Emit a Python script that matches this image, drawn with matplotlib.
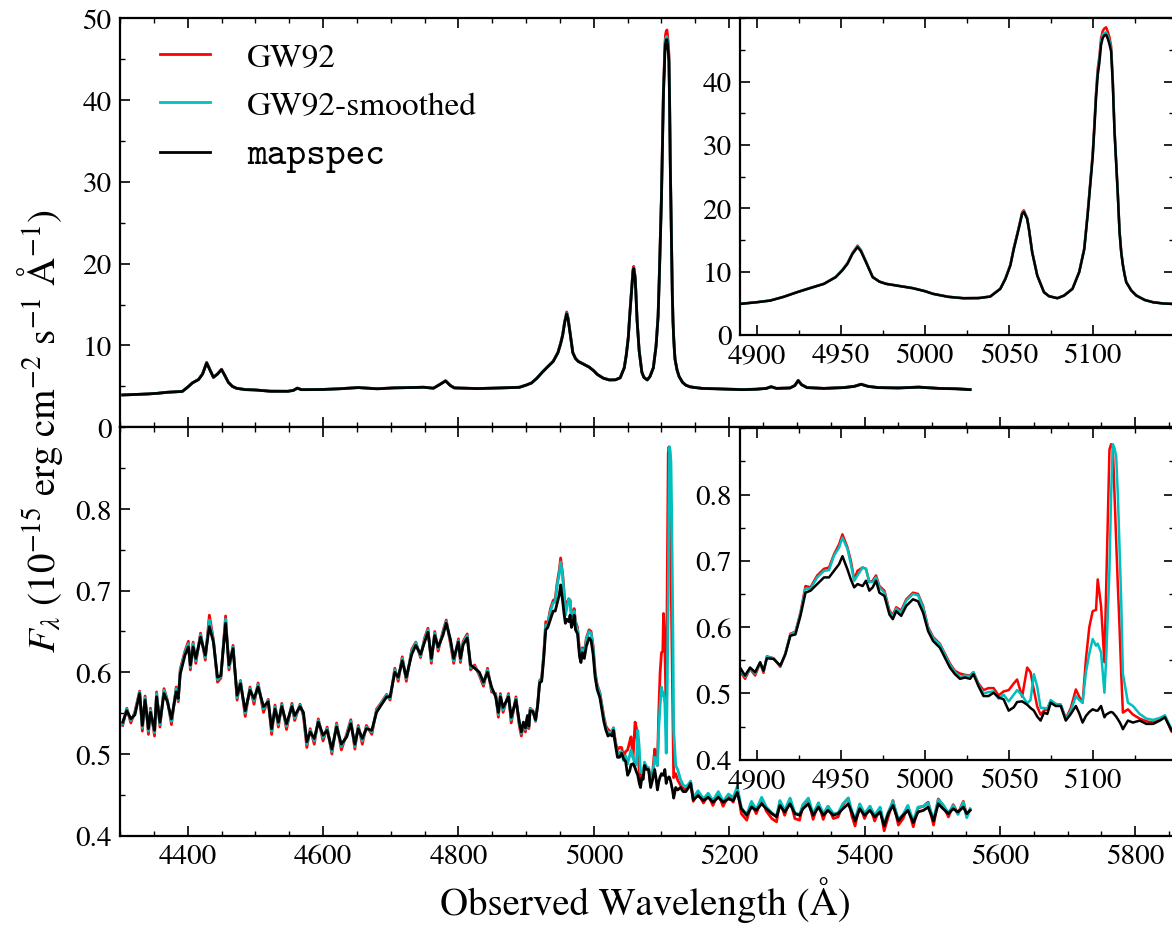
import matplotlib
matplotlib.use("Agg")
import matplotlib.pyplot as plt
from matplotlib.ticker import MultipleLocator

# top panel: full spectrum (10^-15 erg/cm2/s/A)
top_wave = [4304, 4320, 4341, 4355, 4370, 4385, 4392, 4400, 4407, 4416, 4422, 4428, 4433, 4438,
            4444, 4450, 4455, 4460, 4466, 4472, 4485, 4500, 4522, 4548, 4556, 4562, 4568, 4579,
            4600, 4624, 4652, 4680, 4704, 4749, 4763, 4772, 4781, 4788, 4794, 4828, 4860, 4879,
            4890, 4900, 4908, 4916, 4924, 4932, 4940, 4947, 4951, 4954, 4957, 4960, 4962, 4965,
            4969, 4973, 4977, 4985, 4993, 5000, 5005, 5014, 5023, 5032, 5039, 5045, 5048, 5051,
            5053, 5056, 5058, 5059, 5061, 5062, 5064, 5067, 5071, 5074, 5079, 5083, 5088, 5092,
            5095, 5097, 5099, 5100, 5101, 5102, 5103, 5104, 5105, 5106, 5107, 5108, 5109, 5110,
            5111, 5112, 5113, 5114, 5115, 5116, 5117, 5118, 5119, 5120, 5123, 5126, 5131, 5136,
            5142, 5147, 5160, 5180, 5200, 5220, 5240, 5255, 5262, 5270, 5290, 5297, 5302, 5307,
            5315, 5340, 5370, 5385, 5395, 5405, 5420, 5450, 5480, 5510, 5535, 5556]
top_mapspec = [3.95, 4.0, 4.07, 4.15, 4.28, 4.35, 4.38, 4.9, 5.42, 5.83, 6.5, 7.86, 7.0, 6.11,
               6.5, 7.05, 6.3, 5.5, 5.0, 4.77, 4.6, 4.56, 4.4, 4.4, 4.5, 4.77, 4.6, 4.6,
               4.62, 4.7, 4.85, 4.7, 4.81, 4.89, 4.77, 5.2, 5.66, 5.1, 4.81, 4.73, 4.8, 4.85,
               4.88, 5.15, 5.41, 6.0, 6.73, 7.4, 8.05, 9.11, 10.2, 11.22, 12.8, 13.86, 13.2, 11.49,
               9.11, 8.4, 8.05, 7.7, 7.36, 6.9, 6.47, 6.0, 5.78, 5.8, 6.04, 7.26, 8.8, 10.96,
               13.5, 16.77, 19.1, 19.41, 18.3, 16.77, 13.0, 9.37, 6.73, 6.1, 5.78, 6.2, 7.26, 9.9,
               13.5, 18.88, 25.0, 28.0, 32.5, 37.37, 41.0, 43.0, 45.8, 46.9, 47.3, 47.41, 46.8, 45.9,
               44.77, 39.5, 32.09, 27.0, 22.0, 16.24, 13.0, 11.0, 9.5, 8.31, 7.0, 6.2, 5.5, 5.14,
               4.95, 4.88, 4.75, 4.7, 4.65, 4.6, 4.65, 4.75, 4.95, 4.75, 4.8, 5.1, 5.7, 5.2,
               4.85, 4.75, 4.85, 5.0, 5.25, 5.0, 4.85, 4.8, 4.9, 4.75, 4.7, 4.6]
top_gw92 = [3.95, 4.0, 4.08, 4.15, 4.28, 4.35, 4.38, 4.92, 5.44, 5.85, 6.55, 7.95, 7.02, 6.1,
            6.52, 7.1, 6.32, 5.5, 5.0, 4.77, 4.62, 4.56, 4.42, 4.4, 4.52, 4.8, 4.6, 4.62,
            4.63, 4.72, 4.86, 4.72, 4.82, 4.9, 4.78, 5.22, 5.7, 5.12, 4.82, 4.74, 4.8, 4.86,
            4.9, 5.16, 5.43, 6.02, 6.76, 7.43, 8.08, 9.15, 10.3, 11.35, 12.95, 14.1, 13.4, 11.6,
            9.15, 8.42, 8.07, 7.72, 7.38, 6.92, 6.48, 6.02, 5.8, 5.82, 6.06, 7.3, 8.9, 11.1,
            13.7, 17.0, 19.35, 19.67, 18.5, 16.9, 13.1, 9.4, 6.75, 6.12, 5.8, 6.22, 7.3, 10.0,
            13.7, 19.2, 25.5, 28.6, 33.2, 38.2, 42.0, 44.0, 46.8, 48.0, 48.4, 48.57, 47.9, 47.0,
            45.6, 40.2, 32.5, 27.4, 22.3, 16.4, 13.2, 11.1, 9.6, 8.35, 7.02, 6.22, 5.52, 5.16,
            4.96, 4.9, 4.76, 4.72, 4.66, 4.62, 4.66, 4.77, 4.98, 4.76, 4.82, 5.12, 5.75, 5.22,
            4.86, 4.76, 4.87, 5.02, 5.28, 5.02, 4.86, 4.82, 4.92, 4.76, 4.72, 4.62]
top_smooth = [3.95, 4.0, 4.07, 4.15, 4.28, 4.35, 4.38, 4.91, 5.43, 5.84, 6.52, 7.9, 7.01, 6.1,
              6.51, 7.07, 6.31, 5.5, 5.0, 4.77, 4.61, 4.56, 4.41, 4.4, 4.51, 4.78, 4.6, 4.61,
              4.62, 4.71, 4.85, 4.71, 4.81, 4.89, 4.77, 5.21, 5.68, 5.11, 4.81, 4.73, 4.8, 4.85,
              4.89, 5.15, 5.42, 6.01, 6.74, 7.41, 8.06, 9.13, 10.25, 11.3, 12.9, 13.95, 13.3, 11.55,
              9.13, 8.41, 8.06, 7.71, 7.37, 6.91, 6.47, 6.01, 5.79, 5.81, 6.05, 7.28, 8.85, 11.0,
              13.6, 16.9, 19.2, 19.5, 18.4, 16.8, 13.05, 9.38, 6.74, 6.11, 5.79, 6.21, 7.28, 9.95,
              13.6, 19.0, 25.2, 28.3, 32.8, 37.8, 41.5, 43.5, 46.3, 47.4, 47.7, 47.8, 47.2, 46.4,
              45.1, 39.8, 32.3, 27.2, 22.1, 16.3, 13.1, 11.05, 9.55, 8.33, 7.01, 6.21, 5.51, 5.15,
              4.95, 4.89, 4.75, 4.71, 4.65, 4.61, 4.65, 4.76, 4.96, 4.75, 4.81, 5.11, 5.72, 5.21,
              4.85, 4.75, 4.86, 5.01, 5.26, 5.01, 4.85, 4.81, 4.91, 4.75, 4.71, 4.61]

# bottom panel
bot_wave = [4304, 4310, 4316, 4322, 4329, 4333, 4337, 4342, 4345, 4351, 4354, 4359, 4365, 4370,
            4376, 4383, 4386, 4389, 4396, 4401, 4404, 4408, 4412, 4419, 4426, 4432, 4438, 4444,
            4449, 4456, 4461, 4467, 4473, 4478, 4485, 4492, 4498, 4504, 4512, 4519, 4524, 4529,
            4534, 4539, 4546, 4554, 4558, 4566, 4571, 4576, 4581, 4587, 4593, 4600, 4606, 4613,
            4620, 4627, 4635, 4641, 4647, 4652, 4658, 4664, 4672, 4679, 4686, 4694, 4699, 4706,
            4711, 4717, 4723, 4731, 4737, 4744, 4750, 4755, 4760, 4765, 4770, 4777, 4782, 4788,
            4793, 4800, 4803, 4807, 4813, 4818, 4824, 4831, 4837, 4843, 4849, 4855, 4859, 4862,
            4866, 4874, 4878, 4885, 4890, 4893, 4896, 4899, 4902, 4904, 4906, 4910, 4914, 4917,
            4920, 4923, 4926, 4929, 4932, 4936, 4940, 4943, 4946, 4949, 4951, 4954, 4956, 4958,
            4960, 4963, 4965, 4967, 4969, 4971, 4973, 4976, 4979, 4981, 4983, 4986, 4989, 4993,
            4996, 4999, 5002, 5005, 5009, 5012, 5015, 5018, 5021, 5024, 5027, 5029, 5032, 5035,
            5038, 5041, 5044, 5047, 5050, 5053, 5055, 5058, 5061, 5063, 5065, 5067, 5069, 5071,
            5073, 5075, 5078, 5081, 5084, 5087, 5090, 5092, 5094, 5096, 5098, 5100, 5102, 5103,
            5105, 5107, 5108, 5110, 5111, 5112, 5113, 5114, 5115, 5116, 5117, 5118, 5121, 5124,
            5128, 5132, 5136, 5140, 5143, 5147, 5154, 5162, 5169, 5176, 5184, 5191, 5199, 5206,
            5212, 5218, 5226, 5233, 5240, 5248, 5255, 5263, 5270, 5275, 5282, 5290, 5297, 5304,
            5309, 5317, 5324, 5332, 5339, 5346, 5354, 5361, 5368, 5376, 5381, 5386, 5393, 5400,
            5408, 5415, 5423, 5429, 5435, 5442, 5450, 5457, 5464, 5472, 5479, 5487, 5494, 5502,
            5509, 5516, 5524, 5531, 5538, 5546, 5551, 5556]
bot_mapspec = [0.539, 0.553, 0.543, 0.548, 0.574, 0.535, 0.566, 0.531, 0.551, 0.529, 0.570, 0.539, 0.574, 0.564,
               0.543, 0.576, 0.568, 0.598, 0.621, 0.631, 0.609, 0.631, 0.617, 0.643, 0.621, 0.656, 0.637, 0.594,
               0.596, 0.660, 0.609, 0.629, 0.572, 0.586, 0.553, 0.578, 0.568, 0.582, 0.558, 0.564, 0.531, 0.555,
               0.539, 0.558, 0.537, 0.558, 0.547, 0.558, 0.551, 0.515, 0.527, 0.519, 0.539, 0.523, 0.529, 0.506,
               0.533, 0.512, 0.521, 0.537, 0.512, 0.531, 0.519, 0.531, 0.529, 0.551, 0.560, 0.570, 0.570, 0.600,
               0.594, 0.614, 0.594, 0.622, 0.633, 0.622, 0.637, 0.649, 0.617, 0.645, 0.631, 0.645, 0.660, 0.641,
               0.617, 0.637, 0.617, 0.634, 0.642, 0.609, 0.605, 0.600, 0.588, 0.600, 0.582, 0.570, 0.551, 0.570,
               0.557, 0.570, 0.545, 0.566, 0.539, 0.527, 0.539, 0.532, 0.547, 0.534, 0.553, 0.552, 0.542, 0.559,
               0.587, 0.589, 0.617, 0.652, 0.655, 0.665, 0.675, 0.675, 0.685, 0.695, 0.707, 0.687, 0.672, 0.660,
               0.665, 0.662, 0.670, 0.655, 0.660, 0.670, 0.652, 0.647, 0.619, 0.612, 0.624, 0.617, 0.632, 0.642,
               0.639, 0.622, 0.594, 0.579, 0.569, 0.554, 0.539, 0.529, 0.522, 0.524, 0.522, 0.529, 0.511, 0.496,
               0.496, 0.501, 0.494, 0.491, 0.474, 0.479, 0.487, 0.488, 0.483, 0.478, 0.474, 0.465, 0.459, 0.471,
               0.469, 0.486, 0.481, 0.481, 0.459, 0.469, 0.481, 0.470, 0.456, 0.466, 0.472, 0.476, 0.474, 0.474,
               0.481, 0.464, 0.468, 0.471, 0.472, 0.471, 0.468, 0.465, 0.461, 0.457, 0.452, 0.446, 0.459, 0.456,
               0.459, 0.454, 0.454, 0.459, 0.464, 0.444, 0.449, 0.443, 0.447, 0.441, 0.447, 0.441, 0.445, 0.443,
               0.453, 0.433, 0.425, 0.435, 0.431, 0.439, 0.433, 0.427, 0.423, 0.437, 0.429, 0.439, 0.427, 0.425,
               0.433, 0.439, 0.425, 0.435, 0.425, 0.431, 0.425, 0.427, 0.433, 0.439, 0.429, 0.418, 0.433, 0.425,
               0.431, 0.423, 0.429, 0.412, 0.427, 0.437, 0.418, 0.425, 0.431, 0.416, 0.429, 0.431, 0.435, 0.418,
               0.439, 0.433, 0.427, 0.433, 0.429, 0.435, 0.427, 0.431]
bot_gw92 = [0.535, 0.556, 0.538, 0.552, 0.577, 0.528, 0.571, 0.524, 0.556, 0.522, 0.576, 0.533, 0.580, 0.566,
            0.536, 0.582, 0.564, 0.604, 0.626, 0.638, 0.603, 0.637, 0.611, 0.648, 0.615, 0.670, 0.640, 0.588,
            0.593, 0.669, 0.603, 0.633, 0.566, 0.590, 0.546, 0.582, 0.561, 0.587, 0.551, 0.567, 0.524, 0.560,
            0.533, 0.562, 0.530, 0.562, 0.541, 0.561, 0.546, 0.508, 0.531, 0.512, 0.543, 0.516, 0.533, 0.500,
            0.538, 0.505, 0.525, 0.542, 0.506, 0.535, 0.512, 0.535, 0.524, 0.555, 0.563, 0.573, 0.566, 0.605,
            0.589, 0.619, 0.589, 0.628, 0.637, 0.618, 0.642, 0.654, 0.611, 0.650, 0.626, 0.650, 0.664, 0.636,
            0.611, 0.641, 0.612, 0.638, 0.647, 0.603, 0.609, 0.596, 0.583, 0.605, 0.576, 0.574, 0.545, 0.574,
            0.551, 0.574, 0.538, 0.570, 0.534, 0.522, 0.537, 0.527, 0.546, 0.531, 0.556, 0.553, 0.540, 0.560,
            0.590, 0.593, 0.622, 0.662, 0.660, 0.678, 0.688, 0.690, 0.710, 0.725, 0.740, 0.720, 0.700, 0.672,
            0.685, 0.690, 0.688, 0.668, 0.670, 0.678, 0.662, 0.655, 0.625, 0.618, 0.630, 0.625, 0.642, 0.652,
            0.650, 0.632, 0.600, 0.585, 0.575, 0.560, 0.545, 0.534, 0.530, 0.528, 0.527, 0.532, 0.515, 0.505,
            0.508, 0.508, 0.497, 0.503, 0.505, 0.515, 0.521, 0.495, 0.539, 0.532, 0.505, 0.480, 0.468, 0.474,
            0.476, 0.488, 0.484, 0.483, 0.462, 0.478, 0.506, 0.495, 0.486, 0.552, 0.600, 0.624, 0.626, 0.672,
            0.632, 0.547, 0.652, 0.868, 0.876, 0.872, 0.800, 0.730, 0.662, 0.600, 0.530, 0.471, 0.476, 0.468,
            0.462, 0.458, 0.456, 0.460, 0.466, 0.442, 0.452, 0.440, 0.450, 0.437, 0.452, 0.436, 0.449, 0.441,
            0.458, 0.427, 0.419, 0.440, 0.427, 0.445, 0.430, 0.421, 0.417, 0.442, 0.425, 0.445, 0.421, 0.419,
            0.437, 0.445, 0.420, 0.440, 0.420, 0.436, 0.421, 0.423, 0.438, 0.446, 0.425, 0.412, 0.438, 0.421,
            0.436, 0.418, 0.434, 0.406, 0.423, 0.443, 0.413, 0.421, 0.436, 0.411, 0.434, 0.436, 0.441, 0.413,
            0.445, 0.437, 0.423, 0.438, 0.427, 0.442, 0.424, 0.432]
bot_smooth = [0.537, 0.555, 0.541, 0.550, 0.576, 0.532, 0.569, 0.528, 0.554, 0.526, 0.574, 0.536, 0.578, 0.565,
              0.540, 0.580, 0.566, 0.602, 0.624, 0.635, 0.606, 0.635, 0.614, 0.646, 0.618, 0.664, 0.639, 0.591,
              0.595, 0.665, 0.606, 0.631, 0.569, 0.589, 0.550, 0.580, 0.565, 0.585, 0.555, 0.566, 0.528, 0.558,
              0.536, 0.560, 0.534, 0.560, 0.544, 0.560, 0.549, 0.512, 0.529, 0.516, 0.541, 0.520, 0.531, 0.503,
              0.536, 0.509, 0.523, 0.540, 0.509, 0.533, 0.516, 0.533, 0.527, 0.553, 0.562, 0.572, 0.568, 0.603,
              0.592, 0.617, 0.592, 0.626, 0.636, 0.620, 0.640, 0.652, 0.614, 0.648, 0.629, 0.648, 0.662, 0.639,
              0.614, 0.639, 0.615, 0.636, 0.645, 0.606, 0.607, 0.598, 0.586, 0.603, 0.579, 0.572, 0.548, 0.572,
              0.554, 0.572, 0.542, 0.568, 0.537, 0.525, 0.538, 0.530, 0.547, 0.533, 0.555, 0.553, 0.541, 0.560,
              0.589, 0.592, 0.620, 0.658, 0.658, 0.675, 0.685, 0.686, 0.708, 0.720, 0.735, 0.718, 0.695, 0.670,
              0.678, 0.690, 0.688, 0.668, 0.668, 0.675, 0.660, 0.652, 0.623, 0.615, 0.628, 0.622, 0.640, 0.650,
              0.648, 0.630, 0.598, 0.583, 0.574, 0.558, 0.543, 0.532, 0.525, 0.527, 0.526, 0.532, 0.513, 0.500,
              0.502, 0.503, 0.492, 0.498, 0.488, 0.498, 0.505, 0.497, 0.485, 0.490, 0.529, 0.510, 0.478, 0.478,
              0.477, 0.490, 0.484, 0.483, 0.461, 0.474, 0.496, 0.490, 0.486, 0.532, 0.560, 0.582, 0.572, 0.575,
              0.562, 0.501, 0.550, 0.687, 0.800, 0.876, 0.870, 0.858, 0.800, 0.720, 0.640, 0.530, 0.486, 0.481,
              0.469, 0.462, 0.460, 0.463, 0.467, 0.446, 0.455, 0.445, 0.452, 0.443, 0.454, 0.442, 0.451, 0.447,
              0.460, 0.434, 0.426, 0.442, 0.432, 0.447, 0.435, 0.428, 0.424, 0.443, 0.431, 0.446, 0.428, 0.426,
              0.438, 0.446, 0.427, 0.440, 0.427, 0.436, 0.427, 0.428, 0.439, 0.446, 0.431, 0.420, 0.439, 0.427,
              0.436, 0.425, 0.435, 0.414, 0.429, 0.442, 0.420, 0.426, 0.437, 0.418, 0.435, 0.436, 0.440, 0.420,
              0.444, 0.438, 0.428, 0.437, 0.426, 0.441, 0.422, 0.433]

labels = ["GW92", "GW92-smoothed", "mapspec"]
colors = ["r", "c", "k"]

plt.rcParams["font.family"] = "STIXGeneral"
plt.rcParams["mathtext.fontset"] = "stix"
plt.rcParams["font.size"] = 21


def style(ax, xmajor, xminor, ymajor, yminor):
    ax.xaxis.set_major_locator(MultipleLocator(xmajor))
    ax.xaxis.set_minor_locator(MultipleLocator(xminor))
    ax.yaxis.set_major_locator(MultipleLocator(ymajor))
    ax.yaxis.set_minor_locator(MultipleLocator(yminor))
    ax.tick_params(which="both", direction="in", top=True, right=True, labelsize=21)
    ax.tick_params(which="major", length=7, width=1.2, pad=6)
    ax.tick_params(which="minor", length=3.5, width=1.0)
    for s in ax.spines.values():
        s.set_linewidth(1.6)


fig = plt.figure(figsize=(11.72, 9.28), dpi=100)
ax1 = fig.add_axes([0.1024, 0.5385, 0.924, 0.4407])
ax2 = fig.add_axes([0.1024, 0.0984, 0.924, 0.4401], sharex=ax1)
in1 = fig.add_axes([0.6314, 0.6381, 0.3704, 0.3411])
in2 = fig.add_axes([0.6314, 0.1803, 0.3704, 0.3571])

tops = [top_gw92, top_smooth, top_mapspec]
bots = [bot_gw92, bot_smooth, bot_mapspec]
for ys, c, lab in zip(tops, colors, labels):
    ax1.plot(top_wave, ys, color=c, lw=2, label=lab)
    in1.plot(top_wave, ys, color=c, lw=1.8)
for ys, c in zip(bots, colors):
    ax2.plot(bot_wave, ys, color=c, lw=2)
    in2.plot(bot_wave, ys, color=c, lw=1.8)

ax1.set_xlim(4300, 5900)
ax1.set_ylim(0, 50)
ax2.set_ylim(0.4, 0.9)
style(ax1, 200, 50, 10, 5)
style(ax2, 200, 50, 0.1, 0.05)
ax1.tick_params(labelbottom=False)
ax2.set_yticks([0.4, 0.5, 0.6, 0.7, 0.8])

in1.set_xlim(4890, 5148.5)
in1.set_ylim(0, 50)
in2.set_xlim(4890, 5148.5)
in2.set_ylim(0.4, 0.9)
style(in1, 50, 25, 10, 5)
style(in2, 50, 25, 0.1, 0.05)
in1.set_yticks([0, 10, 20, 30, 40])
in2.set_yticks([0.4, 0.5, 0.6, 0.7, 0.8])

leg = ax1.legend(loc="upper left", bbox_to_anchor=(0.025, 0.975), borderaxespad=0,
                 frameon=False, fontsize=24, handlelength=1.5, handletextpad=1.1,
                 labelspacing=0.55)
mono = leg.get_texts()[2]
mono.set_family("cmtt10")
mono.set_fontsize(27)

fig.text(0.551, 1 - 915 / 928, "Observed Wavelength (Å)", ha="center", va="baseline", fontsize=28)
fig.text(0.034, 0.535, r"$F_\lambda$ (10$^{-15}$ erg cm$^{-2}$ s$^{-1}$ $\mathrm{\AA}^{-1}$)",
         rotation=90, ha="center", va="center", fontsize=28)

fig.savefig("out.png", dpi=100)
